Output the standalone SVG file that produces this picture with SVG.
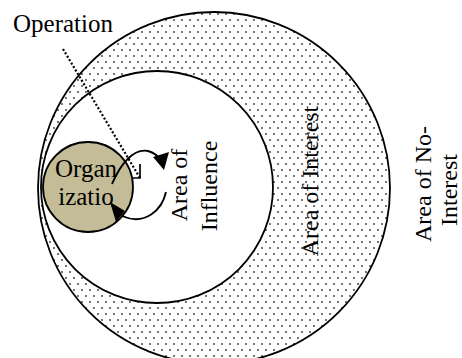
<svg xmlns="http://www.w3.org/2000/svg" width="462" height="358" viewBox="0 0 462 358">
<defs>
<pattern id="dots" x="0" y="0" width="8" height="12" patternUnits="userSpaceOnUse">
<circle cx="2" cy="2" r="0.9" fill="#333"/>
<circle cx="6" cy="8" r="0.9" fill="#333"/>
</pattern>
<style>
.ring{stroke:#000;stroke-width:1.8}
.lbl{font-family:"Liberation Serif","Times New Roman",serif;font-size:24px;fill:#000}
.big{font-size:25px}
.mid{text-anchor:middle}
.conn{fill:none;stroke:#000;stroke-width:1.9}
</style>
</defs>
<rect width="462" height="358" fill="#fff"/>
<g id="area-of-interest">
<circle class="ring" cx="214" cy="188" r="176" fill="url(#dots)"/>
<text class="lbl mid" transform="translate(318,181) rotate(-90)">Area of Interest</text>
</g>
<g id="area-of-influence">
<circle class="ring" cx="157" cy="187" r="116" fill="#fff"/>
<text class="lbl mid" transform="translate(187,185) rotate(-90)">Area of</text>
<text class="lbl mid" transform="translate(217,186) rotate(-90)">Influence</text>
</g>
<g id="area-of-no-interest">
<text class="lbl mid" transform="translate(431,184) rotate(-90)">Area of No-</text>
<text class="lbl mid" transform="translate(457,190) rotate(-90)">Interest</text>
</g>
<g id="organization">
<circle class="ring" cx="88" cy="187" r="45" fill="#c4bc96"/>
<text class="lbl big mid" x="86" y="177">Organ</text>
<text class="lbl big mid" x="86" y="205">izatio</text>
</g>
<g id="operation">
<text class="lbl big" x="13" y="32">Operation</text>
</g>
<g id="connectors">
<path d="M63,49 L140,178" fill="none" stroke="#000" stroke-width="2.2" stroke-dasharray="2,2"/>
<polyline points="140,164 140,178 133,178" fill="none" stroke="#000" stroke-width="1.7"/>
<path class="conn" d="M112,184 C120,165 133,148 148,151 C155,153 158,156 160,160"/>
<polygon points="164,170 153,157 169,152" fill="#000"/>
<path class="conn" d="M166,192 C162,210 145,226 122,216"/>
<polygon points="110,202 125,211 116,222" fill="#000"/>
</g>
</svg>
